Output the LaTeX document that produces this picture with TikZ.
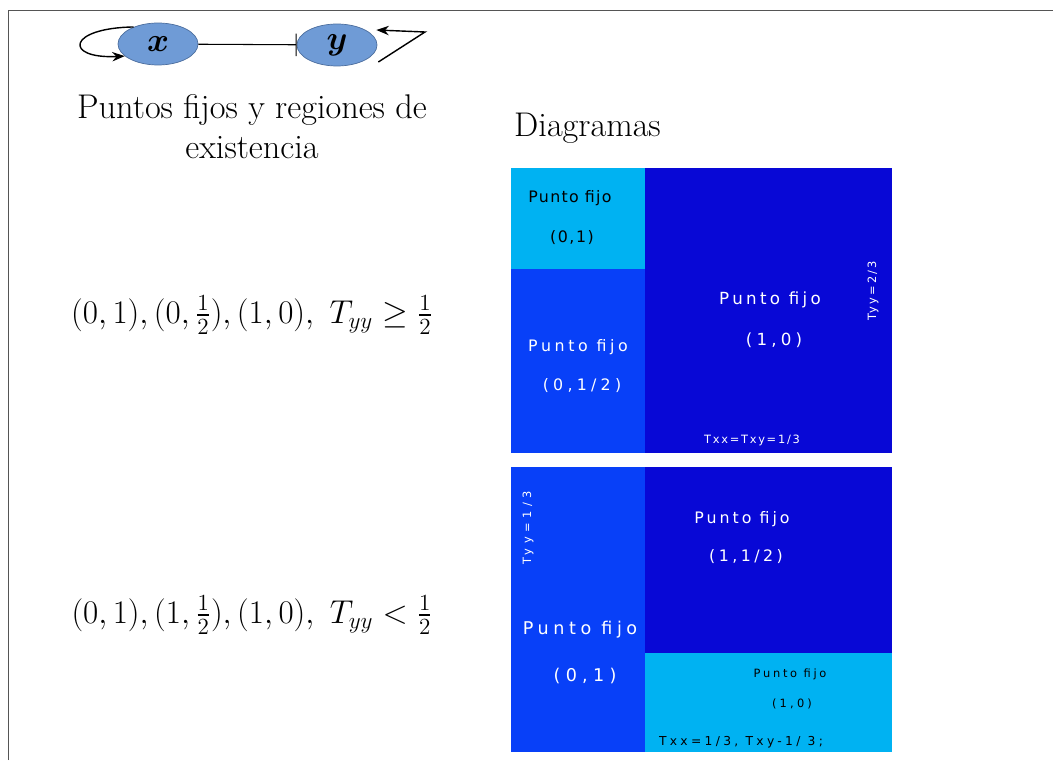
\RequirePackage{fix-cm}
\documentclass[tikz,border=0pt]{standalone}
\usepackage{amsmath}
\usepackage{fontspec}
\usepackage{xcolor}
\usepackage{tikz}
\usetikzlibrary{shapes.geometric, arrows.meta, positioning}
\newfontfamily\boxfont{DejaVu Sans}
\definecolor{nodeblue}{HTML}{6F9BD6}
\definecolor{nodeedge}{HTML}{4C6E9E}
\definecolor{lightcyan}{HTML}{00B2F2}
\definecolor{midblue}{HTML}{0840F8}
\definecolor{darkblue}{HTML}{0808D6}
\definecolor{framegray}{HTML}{555555}

\begin{document}
\begin{tikzpicture}[
    x=0.02cm, y=-0.02cm,
    var/.style={
        draw=nodeedge, fill=nodeblue, ellipse,
        minimum width=1.6cm, minimum height=0.84cm, inner sep=0pt,
        font=\fontsize{19}{19}\selectfont
    },
    link/.style={semithick, draw=black},
    loopy/.style={thick, draw=black, -{Stealth[length=2.5mm]}},
    caption/.style={
        font=\fontsize{19.5}{22.7}\selectfont, align=center
    },
    formula/.style={
        font=\fontsize{18.8}{22.7}\selectfont
    },
    tag/.style n args={3}{
        text=#1, inner sep=0pt,
        font={\boxfont\fontsize{#2}{#2}\selectfont\addfontfeature{LetterSpace=#3}}
    }
]
\useasboundingbox (0,0) rectangle (1053,760);

% frame
\draw[framegray] (8,760) -- (8,10) -- (1053,10);

% network
\node[var] (x) at (158,44) {$\boldsymbol{x}$};
\node[var] (y) at (337,45) {$\boldsymbol{y}$};
\coordinate (yturn) at (425,32);

\draw[link, -{Bar[width=4.5mm]}] (x) -- (y);
\draw[loopy] (x.145) .. controls +(-67,1) and +(-61,3) .. (x.200);
\draw[loopy] ([shift={(1,17)}]y.east) -- (yturn) -- ([shift={(-1,-15)}]y.east);

% captions
\node[caption] (title) at (252,127) {Puntos fijos y regiones de\\existencia};
\node[formula] (condA) at (252,315) {$(0,1),(0,\frac12),(1,0),\ T_{yy}\geq\frac12$};
\node[formula] (condB) at (252,615) {$(0,1),(1,\frac12),(1,0),\ T_{yy}<\frac12$};
\node[caption, anchor=west] (diag) at (508,128) {Diagramas};

% upper diagram
\fill[darkblue] (645,168) rectangle (892,453);
\fill[midblue] (511,269) rectangle (645,453);
\fill[lightcyan] (511,168) rectangle (645,269);

\node[tag={black}{9}{8}] (tlname) at (570,198) {Punto fijo};
\node[tag={black}{9}{10}] (tlpt) at (572,238) {(0,1)};
\node[tag={white}{9}{23}] (mlname) at (578,347) {Punto fijo};
\node[tag={white}{9}{27}] (mlpt) at (582,386) {(0,1/2)};
\node[tag={white}{9.5}{20}] (rname) at (770,300) {Punto fijo};
\node[tag={white}{9.5}{25}] (rpt) at (774,340) {(1,0)};
\node[tag={white}{6.5}{19}, rotate=90] (tyyA) at (873,291) {Tyy=2/3};
\node[tag={white}{6.5}{15}] (txA) at (752,440) {Txx=Txy=1/3};

% lower diagram
\fill[midblue] (511,467) rectangle (645,752);
\fill[darkblue] (645,467) rectangle (892,653);
\fill[lightcyan] (645,653) rectangle (892,752);

\node[tag={white}{6.5}{39}, rotate=90] (tyyB) at (528,528) {Tyy=1/3};
\node[tag={white}{9}{19}] (urname) at (742,519) {Punto fijo};
\node[tag={white}{9}{22}] (urpt) at (746,557) {(1,1/2)};
\node[tag={white}{10}{26}] (blname) at (580,630) {Punto fijo};
\node[tag={white}{10}{30}] (blpt) at (585,676) {(0,1)};
\node[tag={black}{6.5}{24}] (brname) at (790,674) {Punto fijo};
\node[tag={black}{6.5}{28}] (brpt) at (792,704) {(1,0)};
\node[tag={black}{7}{27}] (txB) at (741,742) {Txx=1/3, Txy-1/ 3;};

\end{tikzpicture}
\end{document}
